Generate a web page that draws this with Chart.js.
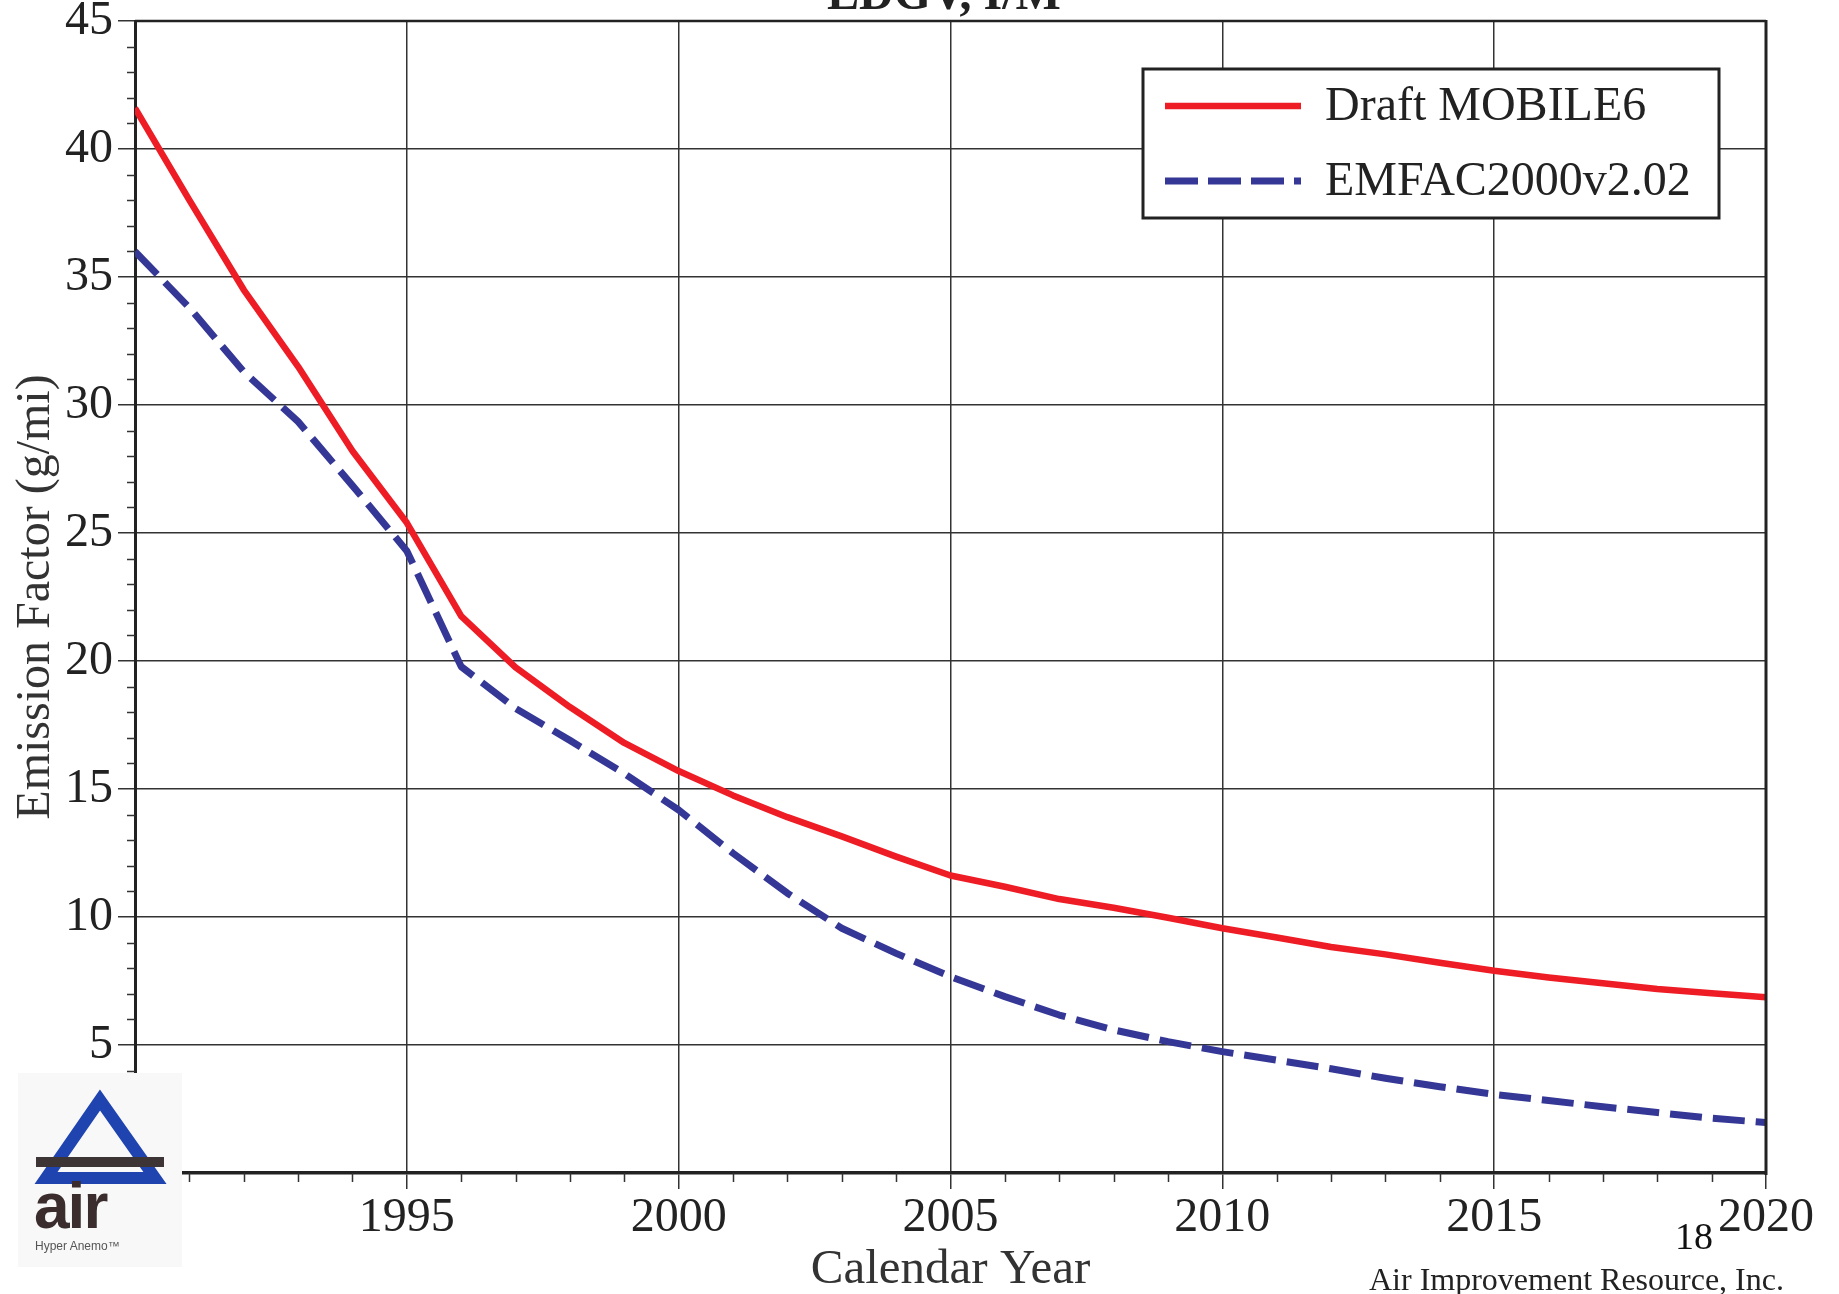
<!DOCTYPE html>
<html><head><meta charset="utf-8">
<script src="https://cdn.jsdelivr.net/npm/chart.js@4/dist/chart.umd.min.js"></script>
<style>
html,body{margin:0;padding:0;background:#fff;overflow:hidden}
#wrap{position:relative;width:1839px;height:1294px}
#c{position:absolute;left:0;top:0}
#ov{position:absolute;left:0;top:0;pointer-events:none}
</style></head><body>
<div id="wrap">
<canvas id="c" width="1839" height="1294"></canvas>
<svg id="ov" width="1839" height="1294" xmlns="http://www.w3.org/2000/svg">
  <text x="944" y="9" text-anchor="middle" font-family="Liberation Serif, Times New Roman, serif" font-weight="bold" font-size="48" fill="#222">LDGV, I/M</text>
  <g>
    <rect x="1143" y="69" width="576" height="149" fill="#fff" stroke="#222" stroke-width="3"/>
    <line x1="1165" y1="106" x2="1301" y2="106" stroke="#ee1c25" stroke-width="6.5"/>
    <line x1="1165" y1="181" x2="1301" y2="181" stroke="#343795" stroke-width="7" stroke-dasharray="33 10"/>
    <text x="1325" y="120" font-family="Liberation Serif, Times New Roman, serif" font-size="48" fill="#222" id="lg0"></text>
    <text x="1325" y="195" font-family="Liberation Serif, Times New Roman, serif" font-size="48" fill="#222" id="lg1"></text>
  </g>
  <g>
    <rect x="18" y="1073" width="164" height="194" fill="#f8f8f8"/>
    <polygon points="100,1100 46,1178 155,1178" fill="none" stroke="#1f44b0" stroke-width="12" stroke-linejoin="miter"/>
    <rect x="36" y="1157" width="128" height="10" fill="#3d3535"/>
    <text x="34" y="1228" font-family="Liberation Sans, Arial, sans-serif" font-weight="bold" font-size="64" fill="#3b2d2d" letter-spacing="-2">air</text>
    <text x="35" y="1250" font-family="Liberation Sans, Arial, sans-serif" font-size="12" fill="#555">Hyper Anemo™</text>
  </g>
  <text x="1675" y="1249" font-family="Liberation Serif, Times New Roman, serif" font-size="38" fill="#111">18</text>
  <text x="1369" y="1290" font-family="Liberation Serif, Times New Roman, serif" font-size="32" fill="#222">Air Improvement Resource, Inc.</text>
</svg>
</div>
<script>
const years = [1990,1991,1992,1993,1994,1995,1996,1997,1998,1999,2000,2001,2002,2003,2004,2005,2006,2007,2008,2009,2010,2011,2012,2013,2014,2015,2016,2017,2018,2019,2020];
const mobile6 = [41.6,38.0,34.5,31.5,28.2,25.4,21.75,19.75,18.2,16.8,15.7,14.75,13.9,13.15,12.36,11.62,11.18,10.7,10.36,9.97,9.56,9.2,8.83,8.54,8.21,7.9,7.64,7.41,7.19,7.02,6.86];
const emfac = [36.0,33.8,31.3,29.35,26.85,24.3,19.78,18.15,16.9,15.6,14.18,12.49,10.93,9.56,8.58,7.67,6.89,6.17,5.59,5.13,4.74,4.41,4.07,3.7,3.37,3.07,2.83,2.59,2.36,2.14,1.97];
const seriesNames = ['Draft MOBILE6','EMFAC2000v2.02'];
const xTitle = 'Calendar Year';
const yTitle = 'Emission Factor (g/mi)';

document.getElementById('lg0').textContent = seriesNames[0];
document.getElementById('lg1').textContent = seriesNames[1];

const serif = "'Liberation Serif', 'Times New Roman', serif";
const toPts = arr => arr.map((v,i)=>({x:years[i], y:v}));

const extras = {
  id:'extras',
  afterDraw(chart){
    const {ctx, scales:{x,y}, chartArea:a} = chart;
    ctx.save();
    ctx.strokeStyle = '#333';
    ctx.lineWidth = 1.5;
    ctx.beginPath();
    for (let v = 1; v < 45; v++) {
      if (v % 5) { const py = Math.round(y.getPixelForValue(v)) + 0.5; ctx.moveTo(a.left - 8, py); ctx.lineTo(a.left, py); }
    }
    for (let yr = years[0] + 1; yr < years[years.length-1]; yr++) {
      if (yr % 5) { const px = Math.round(x.getPixelForValue(yr)) + 0.5; ctx.moveTo(px, a.bottom); ctx.lineTo(px, a.bottom + 9); }
    }
    ctx.stroke();
    ctx.strokeStyle = '#222';
    ctx.lineWidth = 2.5;
    ctx.beginPath();
    ctx.moveTo(a.left, a.top); ctx.lineTo(a.right, a.top);
    ctx.stroke();
    ctx.lineWidth = 3;
    ctx.beginPath();
    ctx.moveTo(a.right, a.top - 1); ctx.lineTo(a.right, a.bottom + 2);
    ctx.stroke();
    ctx.restore();
  }
};

new Chart(document.getElementById('c'), {
  type:'line',
  data:{
    datasets:[
      {label:seriesNames[0], data:toPts(mobile6), borderColor:'#ee1c25', borderWidth:6.5, pointRadius:0, tension:0, fill:false, borderJoinStyle:'round'},
      {label:seriesNames[1], data:toPts(emfac), borderColor:'#343795', borderWidth:7, pointRadius:0, tension:0, fill:false, borderDash:[32,11], borderJoinStyle:'round'}
    ]
  },
  options:{
    responsive:false,
    animation:false,
    events:[],
    layout:{padding:{left:0, top:21, right:73, bottom:0}},
    plugins:{legend:{display:false}, title:{display:false}, tooltip:{enabled:false}},
    scales:{
      x:{
        type:'linear', min:1990, max:2020,
        afterFit(s){ s.height = 121; s.paddingLeft = 0; s.paddingRight = 0; },
        ticks:{stepSize:5, font:{family:serif, size:48}, color:'#222', padding:1, maxRotation:0,
          callback:v => v === 1990 ? '' : String(v)},
        grid:{color:'#333', lineWidth:1.5, tickLength:16, tickColor:'#333', tickWidth:1.5},
        border:{display:true, color:'#222', width:3.5},
        title:{display:true, text:xTitle, font:{family:serif, size:49}, color:'#333', padding:{top:0,bottom:-6}}
      },
      y:{
        type:'linear', min:0, max:45,
        afterFit(s){ s.width = 135; s.paddingTop = 0; s.paddingBottom = 0; },
        ticks:{stepSize:5, font:{family:serif, size:48}, color:'#222', padding:5,
          callback:v => v === 0 ? '' : String(v)},
        grid:{color:'#333', lineWidth:1.5, tickLength:17, tickColor:'#333', tickWidth:1.5},
        border:{display:true, color:'#222', width:3},
        title:{display:true, text:yTitle, font:{family:serif, size:48}, color:'#333', padding:{top:8,bottom:0}}
      }
    }
  },
  plugins:[extras]
});
</script>
</body></html>
